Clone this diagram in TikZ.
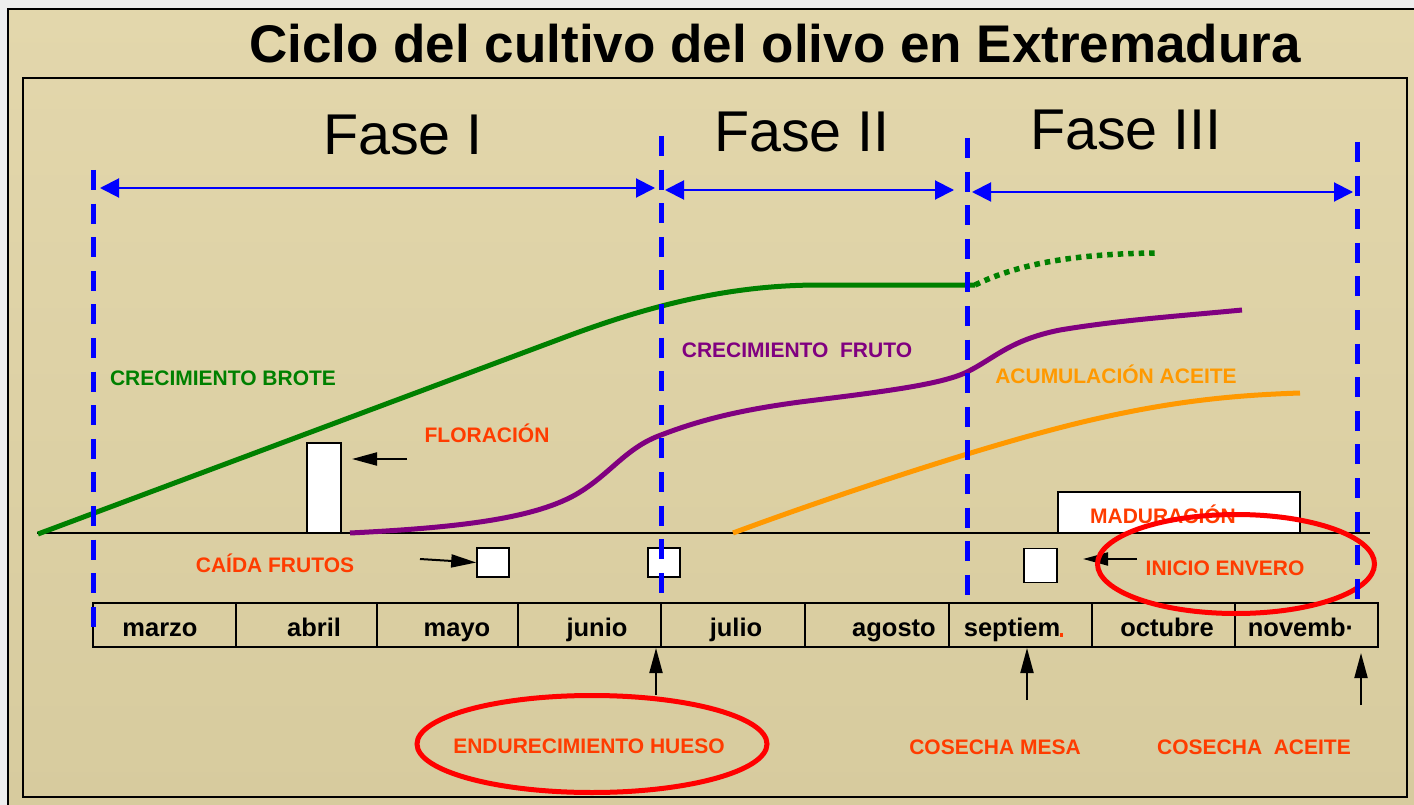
\documentclass[tikz,border=0pt]{standalone}
\usepackage{fontspec}
\setmainfont{Liberation Sans}
\usetikzlibrary{arrows.meta,shapes.geometric}
\definecolor{bgtop}{RGB}{227,215,172}
\definecolor{bgbot}{RGB}{215,203,158}
\definecolor{lbl}{RGB}{255,60,0}
\definecolor{grn}{RGB}{0,128,0}
\definecolor{prp}{RGB}{128,0,128}
\definecolor{org}{RGB}{255,153,0}
\definecolor{outgray}{RGB}{238,238,238}
\definecolor{vblue}{RGB}{0,0,255}
\tikzset{
  lab/.style={anchor=base, font=\bfseries\fontsize{21}{24}\selectfont, inner sep=0pt},
  redlab/.style={lab, text=lbl},
  month/.style={anchor=base, font=\bfseries\fontsize{25.5}{28}\selectfont, inner sep=0pt},
  fase/.style={anchor=base, font=\fontsize{57.5}{60}\selectfont, inner sep=0pt},
  phaseline/.style={draw=vblue, line width=5pt, dash pattern=on 20pt off 13.6pt},
  phasearrow/.style={draw=vblue, line width=2pt, {Triangle[length=19pt,width=19pt]}-{Triangle[length=19pt,width=19pt]}},
  blkarrow/.style={draw=black, line width=2pt, -{Triangle[length=25pt,width=13pt]}},
  curve/.style={line width=5pt},
  wbox/.style={draw=black, fill=white, line width=1.6pt, inner sep=0pt},
  ring/.style={ellipse, draw=red, line width=5pt, inner sep=0pt},
}
\begin{document}
\begin{tikzpicture}[x=1pt,y=-1pt]
\useasboundingbox (0,0) rectangle (1414,805);
\fill[outgray] (0,0) rectangle (1414,805);
\shade[top color=bgtop,bottom color=bgbot] (8,9) rectangle (1414,805);
\draw[line width=2pt] (1414,9) -- (8,9) -- (8,805);
\draw[line width=1.8pt] (23,78) rectangle (1407,797);

% title and phases
\node[anchor=base, font=\bfseries\fontsize{53}{60}\selectfont, inner sep=0pt] (title) at (775,63) {Ciclo del cultivo del olivo en Extremadura};
\node[fase] (f1) at (403,155) {Fase I};
\node[fase] (f2) at (802,152) {Fase II};
\node[fase] (f3) at (1126,150) {Fase III};

% baseline
\coordinate (b0) at (37,533);
\coordinate (b1) at (1370,533);
\draw[line width=2.5pt] (b0) -- (b1);

% white boxes
\node[wbox, minimum width=34pt, minimum height=90pt] (flor) at (324,488) {};
\node[wbox, minimum width=242pt, minimum height=41pt] (madur) at (1179,512.5) {};
\node[redlab] (madtxt) at (1163,523) {MADURACIÓN};
\node[wbox, minimum width=32pt, minimum height=29pt] (c1) at (493,562.5) {};
\node[wbox, minimum width=32pt, minimum height=29pt] (c2) at (664,562.5) {};
\node[wbox, minimum width=33pt, minimum height=34pt] (c3) at (1040.5,565.5) {};

% curves
\draw[curve, grn] (38,534) -- (560,339) .. controls (650,305) and (730,285) .. (820,285) -- (975,285);
\draw[grn, line width=5.5pt, dash pattern=on 5.5pt off 5pt] (975,285) .. controls (1010,268) and (1060,254) .. (1155,253);
\draw[curve, prp] (350,533) .. controls (450,528) and (530,520) .. (575,495)
  .. controls (610,475) and (625,448) .. (661,435)
  .. controls (700,420) and (740,410) .. (800,402)
  .. controls (880,392) and (940,385) .. (967,372)
  .. controls (995,358) and (1010,340) .. (1060,330)
  .. controls (1120,320) and (1180,316) .. (1242,310);
\draw[curve, org] (733,533) .. controls (830,497) and (1000,440) .. (1100,418)
  .. controls (1180,400) and (1240,395) .. (1300,393);

% curve labels
\node[lab, text=grn] (brote) at (223,385) {CRECIMIENTO BROTE};
\node[lab, text=prp] (fruto) at (797,357) {CRECIMIENTO\ \ FRUTO};
\node[lab, text=org] (aceite) at (1116,383) {ACUMULACIÓN ACEITE};
\node[redlab] (florac) at (487,442) {FLORACIÓN};
\node[redlab] (caida) at (275,572) {CAÍDA FRUTOS};
\node[redlab] (envero) at (1225,575) {INICIO ENVERO};

% month bar
\draw[line width=2.5pt] (93,603) rectangle (1378,647);
\foreach \x in {236,377,518,661,805,949,1092,1235} \draw[line width=2.5pt] (\x,603) -- (\x,647);
\node[month] (m1) at (160,636) {marzo};
\node[month] (m2) at (314,636) {abril};
\node[month] (m3) at (457,636) {mayo};
\node[month] (m4) at (597,636) {junio};
\node[month] (m5) at (736,636) {julio};
\node[month] (m6) at (894,636) {agosto};
\node[month] (m7) at (1012,636) {septiem};
\node[month] (m8) at (1167,636) {octubre};
\node[month] (m9) at (1301,636) {novemb·};
\fill[lbl] (1060,633) rectangle (1063,637);

% ellipses
\node[ring, minimum width=350pt, minimum height=97pt] (e1) at (592,744) {};
\node[redlab] (hueso) at (589,753) {ENDURECIMIENTO HUESO};
\node[redlab] (cmesa) at (995,754) {COSECHA MESA};
\node[redlab] (cacei) at (1254,754) {COSECHA\ \ ACEITE};

% black arrows
\coordinate (fa) at (407,459); \coordinate (fb) at (352,459);
\draw[blkarrow] (fa) -- (fb);
\coordinate (ca) at (420,559);
\draw[blkarrow] (ca) -- (c1.west);
\coordinate (ea) at (1137,559); \coordinate (eb) at (1083,559);
\draw[blkarrow] (ea) -- (eb);
\coordinate (u1a) at (656,695); \coordinate (u1b) at (656,648);
\draw[blkarrow] (u1a) -- (u1b);
\coordinate (u2a) at (1027,700); \coordinate (u2b) at (1027,648);
\draw[blkarrow] (u2a) -- (u2b);
\coordinate (u3a) at (1361,705); \coordinate (u3b) at (1361,653);
\draw[blkarrow] (u3a) -- (u3b);

\node[ring, minimum width=277pt, minimum height=99pt] (e2) at (1236,564) {};

% phase lines
\coordinate (v1t) at (93,170); \coordinate (v1b) at (93,632);
\coordinate (v2t) at (661,136); \coordinate (v2b) at (661,598);
\coordinate (v3t) at (967,138); \coordinate (v3b) at (967,600);
\coordinate (v4t) at (1357,142); \coordinate (v4b) at (1357,603);
\draw[phaseline] (v1t) -- (v1b);
\draw[phaseline] (v2t) -- (v2b);
\draw[phaseline] (v3t) -- (v3b);
\draw[phaseline] (v4t) -- (v4b);

% phase arrows
\coordinate (a1l) at (100,188); \coordinate (a1r) at (655,188);
\coordinate (a2l) at (665,190); \coordinate (a2r) at (954,190);
\coordinate (a3l) at (972,192); \coordinate (a3r) at (1353,192);
\draw[phasearrow] (a1l) -- (a1r);
\draw[phasearrow] (a2l) -- (a2r);
\draw[phasearrow] (a3l) -- (a3r);
\end{tikzpicture}
\end{document}
